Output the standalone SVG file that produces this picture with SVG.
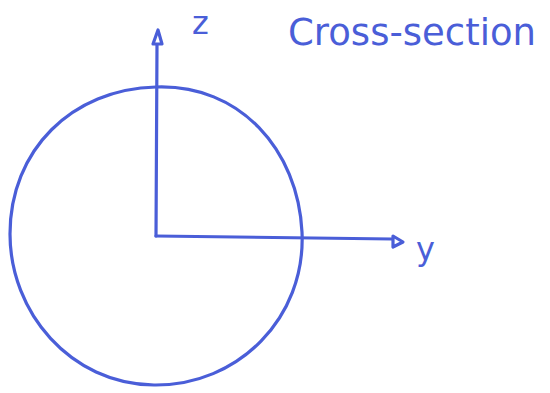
<svg xmlns="http://www.w3.org/2000/svg" width="550" height="393" viewBox="0 0 550 393">
<style>
.ln{fill:none;stroke:#4a5ed8;stroke-width:3.2;stroke-linecap:round;stroke-linejoin:round}
.hd{fill:#ffffff;stroke:#4a5ed8;stroke-width:3.2;stroke-linejoin:round}
.tx{fill:#4a5ed8;font-family:"DejaVu Sans","Liberation Sans",sans-serif}
</style>
<rect width="550" height="393" fill="#ffffff"/>
<g id="circle">
<path class="ln" d="M156,87 C240,84 298,150 302,232 C306,318 238,386 154,385 C70,384 10,312 10,234 C10,150 72,89 156,87 Z"/>
</g>
<g id="connectors">
<path class="ln" d="M156,236 L157,44"/>
<path class="hd" d="M153,44 L158,30 L162,44 Z"/>
<path class="ln" d="M156,236 L392,239"/>
<path class="hd" d="M393,236 L403,242 L393,247 Z"/>
</g>
<g id="z-label"><text class="tx" x="192" y="34" font-size="32">z</text></g>
<g id="y-label"><text class="tx" x="416" y="260" font-size="32">y</text></g>
<g id="title"><text class="tx" x="288" y="45" font-size="38" textLength="248" lengthAdjust="spacingAndGlyphs">Cross-section</text></g>
</svg>
